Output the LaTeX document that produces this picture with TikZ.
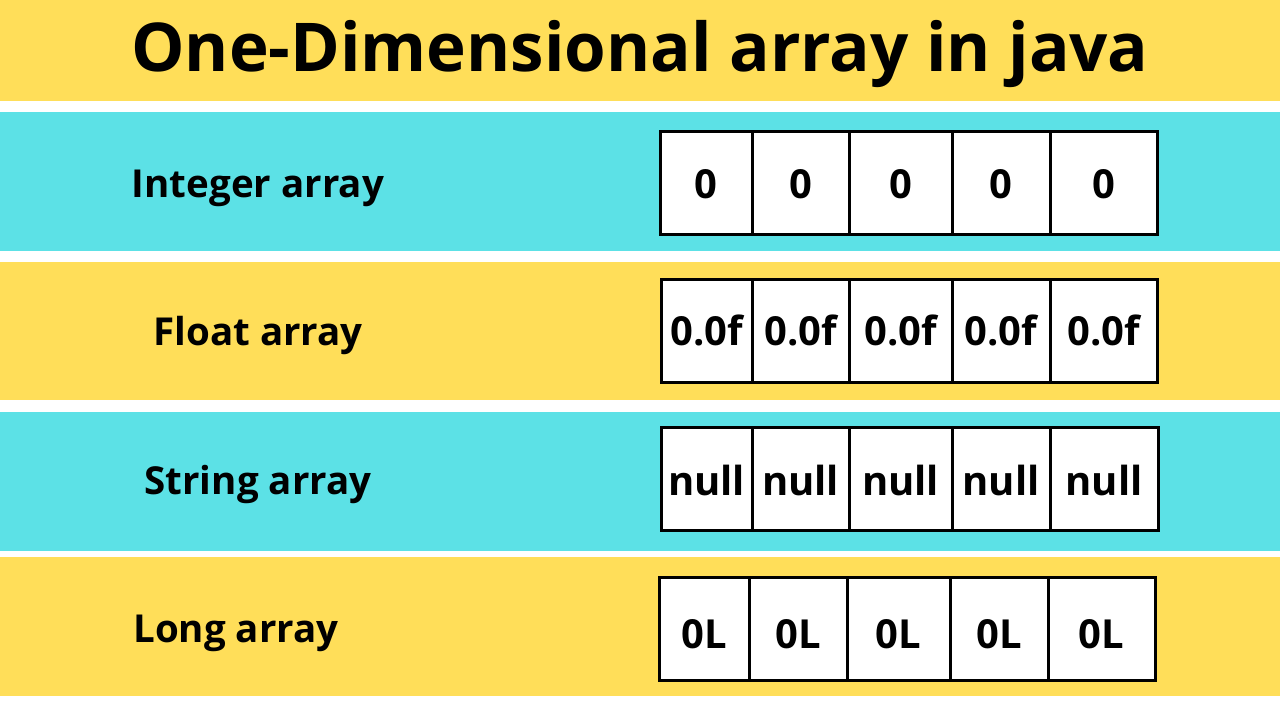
\documentclass[tikz,border=0pt]{standalone}
\usepackage{fontspec}
\setmainfont{Open Sans}[BoldFont={Open Sans Bold}]
\definecolor{bandyellow}{HTML}{FFDE59}
\definecolor{bandcyan}{HTML}{5CE1E6}
\begin{document}
\begin{tikzpicture}[x=1pt,y=-1pt,
  cell/.style={draw=black,fill=white,line width=3pt,inner sep=0pt,outer sep=0pt,minimum height=103},
  val/.style={font=\bfseries\fontsize{40}{40}\selectfont,inner sep=0pt,anchor=base},
  label/.style={font=\bfseries\fontsize{38.5}{38.5}\selectfont,inner sep=0pt,anchor=base},
  title/.style={font=\bfseries\fontsize{67.3}{67.3}\selectfont,inner sep=0pt,anchor=base}]
\useasboundingbox (0,0) rectangle (1280,720);
\fill[white] (0,0) rectangle (1280,720);
\fill[bandyellow] (0,0) rectangle (1280,101);
\fill[bandcyan] (0,112) rectangle (1280,251);
\fill[bandyellow] (0,262) rectangle (1280,400);
\fill[bandcyan] (0,412) rectangle (1280,551);
\fill[bandyellow] (0,557) rectangle (1280,696);
\node[title] (title) at (640,71) {One-Dimensional array in java};
\node[label] (l1) at (258,197) {Integer array};
\node[label] (l2) at (258,345) {Float array};
\node[label] (l3) at (258,494) {String array};
\node[label] (l4) at (236,642) {Long array};
% rows of cells
\foreach \a/\b/\t [count=\i] in {660/752/0,752/849/0,849/952/0,952/1050/0,1050/1157/0}{
  \node[cell,minimum width={\b-\a}] (a\i) at ({(\a+\b)/2},183) {};
  \node[val] (ta\i) at ({(\a+\b)/2},198) {\t};}
\foreach \a/\b/\t [count=\i] in {661/752/0.0f,752/849/0.0f,849/952/0.0f,952/1050/0.0f,1050/1157/0.0f}{
  \node[cell,minimum width={\b-\a}] (b\i) at ({(\a+\b)/2},331) {};
  \node[val] (tb\i) at ({(\a+\b)/2},345) {\t};}
\foreach \a/\b/\t [count=\i] in {661/752/null,752/849/null,849/952/null,952/1050/null,1050/1158/null}{
  \node[cell,minimum width={\b-\a}] (c\i) at ({(\a+\b)/2},479) {};
  \node[val] (tc\i) at ({(\a+\b)/2},495) {\t};}
\foreach \a/\b/\t [count=\i] in {659/749/0L,749/847/0L,847/950/0L,950/1048/0L,1048/1155/0L}{
  \node[cell,minimum width={\b-\a}] (d\i) at ({(\a+\b)/2},629) {};
  \node[val] (td\i) at ({(\a+\b)/2},648) {\t};}
\end{tikzpicture}
\end{document}
